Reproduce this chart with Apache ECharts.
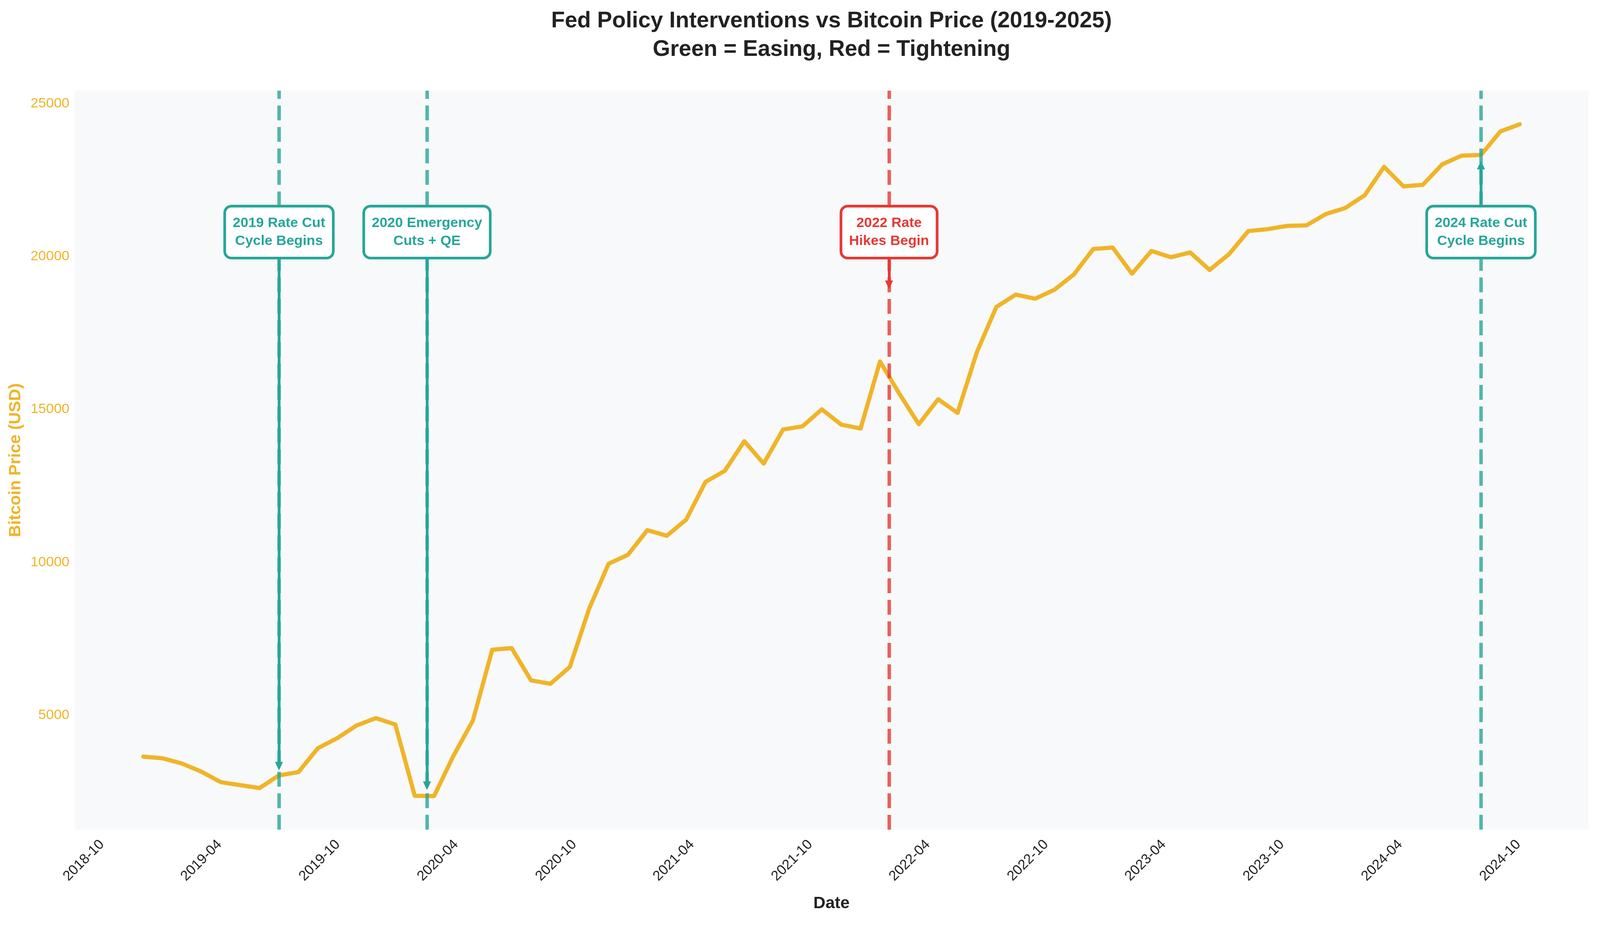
<!DOCTYPE html>
<html><head><meta charset="utf-8">
<script src="https://cdn.jsdelivr.net/npm/echarts@6/dist/echarts.min.js"></script>
<style>html,body{margin:0;padding:0;background:#fff;overflow:hidden}#chart{width:100vw;height:100vh}</style>
</head><body><div id="chart"></div>
<script>
// ---- data ----
const dates = [
 '2019-01-01','2019-01-31','2019-03-02','2019-04-01','2019-05-01','2019-05-31','2019-06-30','2019-07-30',
 '2019-08-29','2019-09-28','2019-10-28','2019-11-27','2019-12-27','2020-01-26','2020-02-25','2020-03-26',
 '2020-04-25','2020-05-25','2020-06-24','2020-07-24','2020-08-23','2020-09-22','2020-10-22','2020-11-21',
 '2020-12-21','2021-01-20','2021-02-19','2021-03-21','2021-04-20','2021-05-20','2021-06-19','2021-07-19',
 '2021-08-18','2021-09-17','2021-10-17','2021-11-16','2021-12-16','2022-01-15','2022-02-14','2022-03-16',
 '2022-04-15','2022-05-15','2022-06-14','2022-07-14','2022-08-13','2022-09-12','2022-10-12','2022-11-11',
 '2022-12-11','2023-01-10','2023-02-09','2023-03-11','2023-04-10','2023-05-10','2023-06-09','2023-07-09',
 '2023-08-08','2023-09-07','2023-10-07','2023-11-06','2023-12-06','2024-01-05','2024-02-04','2024-03-05',
 '2024-04-04','2024-05-04','2024-06-03','2024-07-03','2024-08-02','2024-09-01','2024-10-01','2024-10-31'
];
const btcPrice = [
 3640, 3585, 3414, 3146, 2805, 2707, 2613, 3027,
 3133, 3913, 4242, 4659, 4900, 4690, 2360, 2350,
 3670, 4820, 7136, 7191, 6134, 6023, 6573, 8482,
 9949, 10243, 11049, 10865, 11390, 12628, 12993, 13958,
 13228, 14342, 14444, 15000, 14502, 14374, 16568, 15512,
 14515, 15333, 14885, 16880, 18350, 18754, 18622, 18915,
 19415, 20246, 20295, 19438, 20184, 19978, 20134, 19562,
 20077, 20834, 20897, 21002, 21022, 21391, 21587, 22004,
 22934, 22297, 22347, 23017, 23300, 23325, 24093, 24328
];
const xTickLabels = ['2018-10','2019-04','2019-10','2020-04','2020-10','2021-04','2021-10',
                     '2022-04','2022-10','2023-04','2023-10','2024-04','2024-10'];
const yTickValues = [5000, 10000, 15000, 20000, 25000];

const eventDates  = ['2019-07-30', '2020-03-15', '2022-02-28', '2024-09-01'];
const eventLabels = ['2019 Rate Cut\nCycle Begins', '2020 Emergency\nCuts + QE', '2022 Rate\nHikes Begin', '2024 Rate Cut\nCycle Begins'];
const eventKinds  = ['easing', 'easing', 'tightening', 'easing'];
const eventBoxY   = [20800, 20800, 20800, 20800];
const eventArrowY = [3330, 2690, 19075, 22990];

// ---- styling ----
const GOLD = '#F0B429';
const KIND_COLOR = { easing: '#26A69A', tightening: '#E53935' };
const FONT = 'Liberation Sans';

const el = document.getElementById('chart');
const SX = el.clientWidth / 4770, SY = el.clientHeight / 2367, S = Math.min(SX, SY);
const px = v => v * S, hx = v => v * SX, vy = v => v * SY;

const ts = s => { const p = s.split('-').map(Number); return Date.UTC(p[0], p[1] - 1, p[2] || 1); };
const padMin = r => r.min - 0.05 * (r.max - r.min);
const padMax = r => r.max + 0.05 * (r.max - r.min);
const xTickValues = xTickLabels.map(ts);
const fmtMonth = v => { const d = new Date(v); return d.getUTCFullYear() + '-' + String(d.getUTCMonth() + 1).padStart(2, '0'); };

const chart = echarts.init(el, null, { renderer: 'canvas' });

const option = {
  animation: false,
  backgroundColor: '#ffffff',
  textStyle: { fontFamily: FONT },
  title: {
    text: 'Fed Policy Interventions vs Bitcoin Price (2019-2025)\nGreen = Easing, Red = Tightening',
    left: hx(2479), top: vy(18), textAlign: 'center', padding: 0,
    textStyle: { fontFamily: FONT, fontSize: px(66.7), fontWeight: 'bold', color: '#222222', lineHeight: vy(73) }
  },
  grid: { left: hx(222), right: hx(34), top: vy(232), bottom: vy(244), show: true, backgroundColor: '#F8F9FA', borderWidth: 0 },
  xAxis: {
    type: 'value', scale: true,
    min: padMin, max: padMax,
    axisLine: { show: false }, axisTick: { show: false }, splitLine: { show: false },
    axisLabel: {
      customValues: xTickValues,
      formatter: fmtMonth,
      rotate: 45, align: 'center', verticalAlign: 'middle', margin: vy(79),
      fontSize: px(41.7), color: '#222222', fontFamily: FONT, hideOverlap: false
    },
    name: 'Date', nameLocation: 'middle', nameGap: vy(168),
    nameTextStyle: { fontSize: px(50), fontWeight: 'bold', color: '#222222', fontFamily: FONT }
  },
  yAxis: {
    type: 'value', scale: true,
    min: padMin, max: padMax,
    axisLine: { show: false }, axisTick: { show: false }, splitLine: { show: false },
    axisLabel: { customValues: yTickValues, formatter: v => String(v), fontSize: px(41.7), color: GOLD, margin: hx(15), fontFamily: FONT },
    name: 'Bitcoin Price (USD)', nameLocation: 'middle', nameGap: hx(150),
    nameTextStyle: { fontSize: px(50), fontWeight: 'bold', color: GOLD, fontFamily: FONT }
  },
  series: [
    {
      name: 'Bitcoin', type: 'line', z: 2, silent: true,
      showSymbol: false, symbol: 'none',
      data: dates.map((d, i) => [ts(d), btcPrice[i]]),
      lineStyle: { color: GOLD, width: px(12.5), join: 'round', cap: 'round' },
      markLine: {
        silent: true, symbol: 'none', animation: false, z: 3,
        label: { show: false },
        data: eventDates.map((d, i) => ({
          xAxis: ts(d),
          lineStyle: { color: KIND_COLOR[eventKinds[i]], width: px(10.4), type: [vy(38), vy(17)], opacity: 0.8 }
        }))
      }
    },
    {
      name: 'arrows', type: 'line', z: 4, silent: true, data: [],
      markLine: {
        silent: true, animation: false, symbol: ['none', 'triangle'], symbolSize: [px(24), vy(22)],
        label: { show: false },
        data: eventDates.map((d, i) => [
          { coord: [ts(d), eventBoxY[i]], lineStyle: { color: KIND_COLOR[eventKinds[i]], width: px(8.3), type: 'solid', opacity: 1 }, itemStyle: { color: KIND_COLOR[eventKinds[i]] } },
          { coord: [ts(d), eventArrowY[i]] }
        ])
      }
    },
    {
      name: 'boxes', type: 'line', z: 5, silent: true, data: [],
      markPoint: {
        silent: true, animation: false, symbol: 'rect', symbolSize: 1,
        itemStyle: { color: 'rgba(0,0,0,0)' },
        data: eventDates.map((d, i) => ({
          coord: [ts(d), eventBoxY[i]],
          label: {
            show: true, position: 'inside', formatter: eventLabels[i],
            fontFamily: FONT, fontSize: px(41.7), fontWeight: 'bold', lineHeight: vy(46), align: 'center',
            color: KIND_COLOR[eventKinds[i]], backgroundColor: '#ffffff',
            borderColor: KIND_COLOR[eventKinds[i]], borderWidth: px(8), borderRadius: px(16), padding: [vy(17), hx(20)]
          }
        }))
      }
    }
  ]
};
chart.setOption(option);
</script>
</body></html>
